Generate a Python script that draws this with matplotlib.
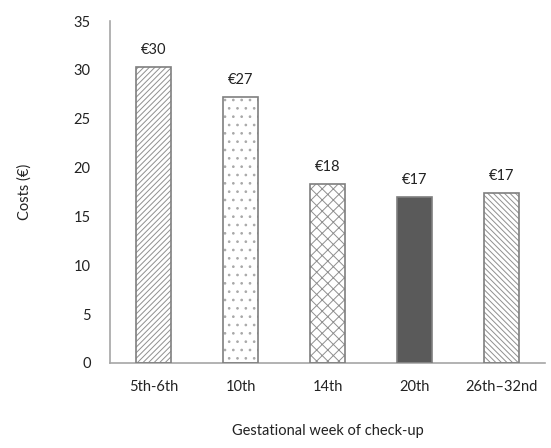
import matplotlib.pyplot as plt

plt.rcParams['font.family'] = ['Lato', 'DejaVu Sans']
plt.rcParams['hatch.linewidth'] = 0.7

weeks = ["5th-6th", "10th", "14th", "20th", "26th\u201332nd"]
costs = [30.3, 27.2, 18.3, 17.0, 17.4]
hatches = ["//////", "..", "xxx", "", "\\\\\\\\\\\\"]
fills = ["white", "white", "white", "#5a5a5a", "white"]
hatch_colors = ["#8f8f8f", "#a8a8a8", "#8f8f8f", "#5a5a5a", "#8f8f8f"]

fig = plt.figure(figsize=(5.51, 4.48), dpi=100)
ax = fig.add_axes([0.2, 0.19, 0.789, 0.763])

for i, (c, h, f, hc) in enumerate(zip(costs, hatches, fills, hatch_colors)):
    # pattern layer, then a separate outline on top
    ax.bar(i, c, width=0.41, color=f, edgecolor=hc, hatch=h, linewidth=0, zorder=2)
    ax.bar(i, c, width=0.41, fill=False, edgecolor="#7f7f7f", linewidth=1.2, zorder=3)
    ax.text(i, c + 1.0, f"\u20ac{c:.0f}", ha="center", va="bottom", fontsize=10.5,
            color="#222222")

ax.set_xlim(-0.5, 4.5)
ax.set_ylim(0, 35)
ax.set_yticks(range(0, 36, 5))
ax.set_xticks(range(len(weeks)))
ax.set_xticklabels(weeks)
ax.tick_params(length=0, labelsize=10.5, colors="#222222", pad=12)
ax.tick_params(axis="y", pad=14)

for side in ("top", "right"):
    ax.spines[side].set_visible(False)
for side in ("left", "bottom"):
    ax.spines[side].set_color("#a6a6a6")
    ax.spines[side].set_linewidth(1.2)

ax.set_ylabel("Costs (\u20ac)", fontsize=10.5, color="#222222", labelpad=30)
ax.set_xlabel("Gestational week of check-up", fontsize=10.5, color="#222222",
              labelpad=22)

fig.savefig("out.png", dpi=100)
